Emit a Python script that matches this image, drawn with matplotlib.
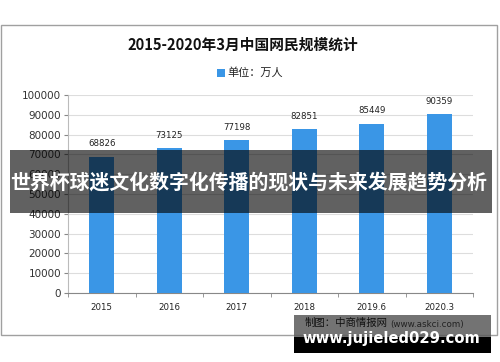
import matplotlib.pyplot as plt
from matplotlib.patches import Rectangle

plt.rcParams['font.family'] = ['Noto Sans CJK SC', 'DejaVu Sans']

# data
years = ['2015', '2016', '2017', '2018', '2019.6', '2020.3']
users = [68826, 73125, 77198, 82851, 85449, 90359]
yticks = list(range(0, 100001, 10000))

W, H = 500, 362
fig = plt.figure(figsize=(W / 100, H / 100), dpi=100)

def fx(px):
    return px / W

def fy(py):
    return 1 - py / H

# outer chart frame
fig.patches.append(Rectangle((fx(1), fy(335)), fx(496), 310 / H, transform=fig.transFigure,
                             fill=False, edgecolor='#a0a0a0', linewidth=1))

ax = fig.add_axes([fx(68), fy(293), fx(405), 198 / H])
x = range(len(years))
bars = ax.bar(x, users, width=0.37, color='#3a96e6', zorder=3)
for i, v in enumerate(users):
    ax.annotate(str(v), (i, v), xytext=(0, 6), textcoords='offset points',
                ha='center', va='bottom', fontsize=6.2, color='#222222',
                family='DejaVu Sans')

ax.set_xlim(-0.5, len(years) - 0.5)
ax.set_ylim(0, 100000)
ax.set_yticks(yticks)
ax.set_yticklabels([str(t) for t in yticks], fontsize=7.5, color='#333333', family='DejaVu Sans')
ax.set_xticks(list(x))
ax.set_xticklabels(years, fontsize=6.2, color='#222222', family='DejaVu Sans')
ax.set_xticks([i + 0.5 for i in range(-1, len(years))], minor=True)
ax.tick_params(axis='x', which='major', length=0, pad=7)
ax.tick_params(axis='x', which='minor', length=3, color='#888888')
ax.tick_params(axis='y', length=3, color='#888888', pad=2)
ax.grid(axis='y', color='#dddddd', linewidth=0.8, zorder=0)
for s in ['top', 'right']:
    ax.spines[s].set_visible(False)
ax.spines['left'].set_color('#bbbbbb')
ax.spines['bottom'].set_color('#888888')

# title and legend
fig.text(fx(243), fy(45), '2015-2020年3月中国网民规模统计', ha='center', va='center',
         fontsize=10.6, fontweight='bold', color='#111111')
fig.patches.append(Rectangle((fx(217), fy(77)), fx(8), 8 / H, transform=fig.transFigure,
                             facecolor='#3a96e6', edgecolor='none'))
fig.text(fx(227), fy(73), '单位：万人', ha='left', va='center', fontsize=8, color='#222222')

# overlay banner
fig.patches.append(Rectangle((fx(10), fy(213)), fx(482), 63 / H, transform=fig.transFigure,
                             facecolor='black', alpha=0.62, edgecolor='none', zorder=10))
fig.text(fx(249), fy(182), '世界杯球迷文化数字化传播的现状与未来发展趋势分析', ha='center', va='center',
         fontsize=14.3, fontweight='bold', color='white', zorder=11)

# bottom watermark box
fig.patches.append(Rectangle((fx(294), fy(337)), fx(197), 22 / H, transform=fig.transFigure,
                             facecolor='#5a5a5a', alpha=0.85, edgecolor='none', zorder=10))
fig.patches.append(Rectangle((fx(294), fy(353)), fx(197), 16 / H, transform=fig.transFigure,
                             facecolor='black', edgecolor='none', zorder=10))
fig.text(fx(305), fy(323), '制图：中商情报网', ha='left', va='center', fontsize=7.5,
         color='#111111', zorder=11)
fig.text(fx(390), fy(324), '(www.askci.com)', ha='left', va='center', fontsize=6.3,
         color='#222222', family='DejaVu Sans', zorder=11)
fig.text(fx(391), fy(338), 'www.jujieled029.com', ha='center', va='center', fontsize=10.6,
         fontweight='bold', color='white', family='DejaVu Sans', zorder=11)

fig.savefig('out.png', dpi=100)
